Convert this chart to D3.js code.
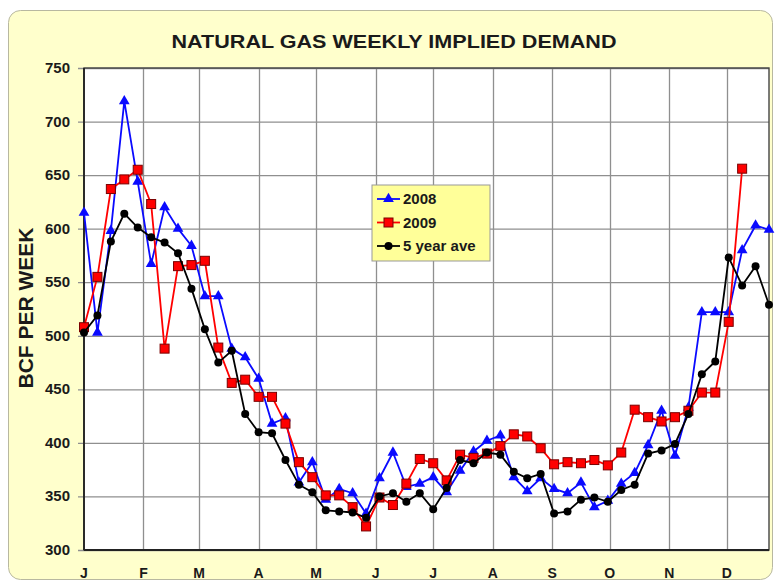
<!DOCTYPE html>
<html>
<head>
<meta charset="utf-8">
<title>Natural gas weekly implied demand</title>
<script src="https://cdn.jsdelivr.net/npm/d3@7"></script>
<style>
  body { margin: 0; background: #fff; }
  svg text { font-family: "Liberation Sans", Arial, sans-serif; font-weight: bold; fill: #1a1a1a; }
</style>
</head>
<body>
<svg id="chart" width="775" height="583"></svg>
<script>
// weekly values, week 1 starts Jan 1
var s2008 = [615, 503, 598, 719, 644, 567, 620, 600, 584, 537, 537, 488, 480, 460, 418, 423,
  363, 382, 347, 357, 353, 334, 367, 391, 359, 362, 368, 354, 374, 392, 402, 407,
  368, 355, 367, 357, 353, 363, 340, 346, 362, 372, 398, 430, 388, 433, 522, 522,
  522, 580, 603, 599];
var s2009 = [508, 555, 637, 646, 655, 623, 488, 565, 566, 570, 489, 456, 459, 443, 443, 418,
  382, 368, 351, 351, 340, 322, 349, 342, 362, 385, 381, 365, 389, 386, 390, 397,
  408, 406, 395, 380, 382, 381, 384, 379, 391, 431, 424, 420, 424, 430, 447, 447,
  513, 656];
var s5yr = [503, 519, 588, 614, 601, 592, 587, 577, 544, 506, 475, 486, 427, 410, 409, 384,
  361, 354, 337, 336, 335, 330, 350, 353, 345, 353, 338, 358, 384, 381, 391, 389,
  373, 367, 371, 334, 336, 347, 349, 345, 356, 361, 390, 393, 399, 427, 464, 476,
  573, 547, 565, 529];
var monthLabels = ["J", "F", "M", "A", "M", "J", "J", "A", "S", "O", "N", "D"];
var yTicks = [300, 350, 400, 450, 500, 550, 600, 650, 700, 750];

var series = [
  {name: "2008", values: s2008, color: "#0a0aff", marker: "triangle"},
  {name: "2009", values: s2009, color: "#ff0000", marker: "square"},
  {name: "5 year ave", values: s5yr, color: "#000000", marker: "circle"}
];

var svg = d3.select("#chart");
var pL = 84, pR = 769, pT = 68, pB = 550;

function weekDate(i) { return new Date(2008, 0, 1 + 7 * i); }

var x = d3.scaleTime().domain([weekDate(0), weekDate(51)]).range([pL, pR]);
var y = d3.scaleLinear().domain([300, 750]).range([pB, pT]);

// background panel
svg.append("rect").attr("x", 8.5).attr("y", 10.5).attr("width", 764).attr("height", 569)
  .attr("rx", 12).attr("fill", "#ffffcc").attr("stroke", "#b8b8a0").attr("stroke-width", 1);

svg.append("text").attr("x", 394).attr("y", 48).attr("text-anchor", "middle")
  .attr("font-size", 19).attr("textLength", 445).attr("lengthAdjust", "spacingAndGlyphs")
  .text("NATURAL GAS WEEKLY IMPLIED DEMAND");

svg.append("rect").attr("x", pL).attr("y", pT).attr("width", pR - pL).attr("height", pB - pT)
  .attr("fill", "#fff");

var months = d3.timeMonths(new Date(2008, 0, 1), new Date(2009, 0, 1));

// grid
svg.append("g").selectAll("line").data(yTicks).enter().append("line")
  .attr("x1", pL - 6).attr("x2", pR)
  .attr("y1", function(d) { return y(d) + 0.5; }).attr("y2", function(d) { return y(d) + 0.5; })
  .attr("stroke", "#8f8f8f").attr("stroke-width", 1.3);
svg.append("g").selectAll("line").data(months.slice(1)).enter().append("line")
  .attr("x1", function(d) { return Math.round(x(d)) + 0.5; }).attr("x2", function(d) { return Math.round(x(d)) + 0.5; })
  .attr("y1", pT).attr("y2", pB)
  .attr("stroke", "#8f8f8f").attr("stroke-width", 1.3);

svg.append("rect").attr("x", pL).attr("y", pT).attr("width", pR - pL).attr("height", pB - pT)
  .attr("fill", "none").attr("stroke", "#444").attr("stroke-width", 1.4);
svg.append("line").attr("x1", pL).attr("x2", pL).attr("y1", pT).attr("y2", pB)
  .attr("stroke", "#222").attr("stroke-width", 1.8);
svg.append("line").attr("x1", pL).attr("x2", pR).attr("y1", pB).attr("y2", pB)
  .attr("stroke", "#222").attr("stroke-width", 1.8);

// axis labels
svg.append("g").selectAll("text").data(yTicks).enter().append("text")
  .attr("x", pL - 14).attr("y", function(d) { return y(d) + 5; })
  .attr("text-anchor", "end").attr("font-size", 15).text(function(d) { return d; });

svg.append("g").selectAll("text").data(months).enter().append("text")
  .attr("x", function(d) { return x(d); }).attr("y", 578)
  .attr("text-anchor", "middle").attr("font-size", 14)
  .text(function(d, i) { return monthLabels[i]; });

svg.append("text").attr("transform", "translate(33,308) rotate(-90)")
  .attr("text-anchor", "middle").attr("font-size", 21).text("BCF PER WEEK");

function drawMarker(g, type, color, cx, cy) {
  if (type === "triangle") {
    g.append("path").attr("d", d3.symbol(d3.symbolTriangle, 50)())
      .attr("transform", "translate(" + cx + "," + cy + ")").attr("fill", color);
  } else if (type === "square") {
    g.append("rect").attr("x", cx - 4.5).attr("y", cy - 4.5).attr("width", 9).attr("height", 9)
      .attr("fill", color).attr("stroke", "#7a0000").attr("stroke-width", 1);
  } else {
    g.append("circle").attr("cx", cx).attr("cy", cy).attr("r", 4).attr("fill", color);
  }
}

var line = d3.line()
  .x(function(d, i) { return x(weekDate(i)); })
  .y(function(d) { return y(d); });

series.forEach(function(s) {
  var g = svg.append("g");
  g.append("path").attr("d", line(s.values)).attr("fill", "none")
    .attr("stroke", s.color).attr("stroke-width", 1.8);
  s.values.forEach(function(v, i) {
    drawMarker(g, s.marker, s.color, x(weekDate(i)), y(v));
  });
});

// legend
var lg = svg.append("g").attr("transform", "translate(372,185)");
lg.append("rect").attr("width", 118).attr("height", 76).attr("fill", "#ffff99")
  .attr("stroke", "#999").attr("stroke-width", 1);
series.forEach(function(s, i) {
  var yy = 14 + i * 23.5;
  lg.append("line").attr("x1", 5).attr("x2", 28).attr("y1", yy).attr("y2", yy)
    .attr("stroke", s.color).attr("stroke-width", 1.8);
  drawMarker(lg, s.marker, s.color, 16.5, yy);
  lg.append("text").attr("x", 31).attr("y", yy + 5).attr("font-size", 15).text(s.name);
});
</script>
</body>
</html>
